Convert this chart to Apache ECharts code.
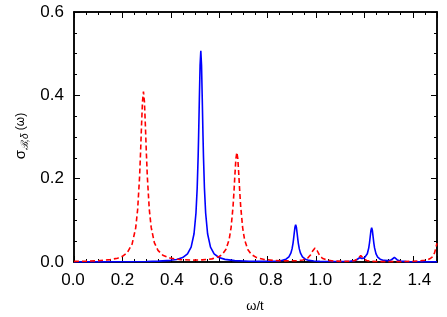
<!DOCTYPE html>
<html>
<head>
<meta charset="utf-8">
<script src="https://cdn.jsdelivr.net/npm/echarts@6/dist/echarts.min.js"></script>
<style>html,body{margin:0;padding:0;background:#fff}#c{width:447px;height:317px}</style>
</head>
<body>
<div id="c"></div>
<script>
// ---- data ----
var blueOmega = [0,0.1,0.2,0.3,0.35,0.4,0.424,0.449,0.469,0.484,0.496,0.504,0.509,0.513,0.515,0.518,0.521,0.524,0.527,0.530,0.533,0.535,0.539,0.544,0.552,0.564,0.579,0.599,0.624,0.664,0.724,0.78,0.82,0.841,0.861,0.876,0.888,0.896,0.901,0.905,0.907,0.910,0.913,0.916,0.919,0.922,0.925,0.927,0.931,0.936,0.944,0.956,0.971,0.991,1.016,1.06,1.1,1.14,1.16,1.17,1.18,1.19,1.2,1.205,1.212,1.218,1.221,1.224,1.227,1.230,1.233,1.236,1.239,1.242,1.248,1.255,1.265,1.28,1.299,1.312,1.318,1.324,1.330,1.336,1.349,1.374,1.4,1.45,1.5];
var blueSigma = [0.0002,0.0003,0.0006,0.0012,0.002,0.004,0.0061,0.0107,0.0195,0.0357,0.0678,0.1177,0.177,0.2535,0.304,0.391,0.472,0.507,0.472,0.391,0.304,0.2535,0.177,0.1177,0.0678,0.0357,0.0195,0.0108,0.0063,0.0033,0.0018,0.0015,0.0019,0.0025,0.0039,0.0068,0.0124,0.0211,0.0315,0.0449,0.0538,0.069,0.0833,0.0894,0.0833,0.069,0.0538,0.0449,0.0315,0.0211,0.0124,0.0068,0.0038,0.0023,0.0014,0.0011,0.0011,0.0018,0.0033,0.006,0.0105,0.0086,0.0099,0.0126,0.0199,0.034,0.0456,0.0606,0.0755,0.0823,0.0755,0.0605,0.0455,0.0338,0.0196,0.0117,0.0067,0.0038,0.0032,0.0054,0.0085,0.0109,0.0082,0.0049,0.0021,0.0008,0.0006,0.0004,0.0003];
var redOmega = [0,0.05,0.1,0.15,0.18,0.2,0.22,0.24,0.255,0.263,0.271,0.275,0.279,0.283,0.287,0.291,0.295,0.299,0.303,0.311,0.319,0.332,0.347,0.367,0.397,0.437,0.487,0.53,0.57,0.6,0.613,0.628,0.641,0.649,0.657,0.661,0.665,0.669,0.673,0.677,0.681,0.685,0.689,0.697,0.705,0.718,0.733,0.753,0.783,0.823,0.873,0.92,0.946,0.966,0.978,0.987,0.996,1.005,1.014,1.026,1.046,1.076,1.11,1.145,1.161,1.173,1.179,1.185,1.191,1.197,1.209,1.225,1.26,1.3,1.35,1.4,1.43,1.45,1.46,1.47,1.48,1.49,1.5];
var redSigma = [0.0014,0.002,0.003,0.0058,0.0092,0.0137,0.0224,0.0428,0.082,0.126,0.2045,0.262,0.327,0.385,0.409,0.385,0.327,0.262,0.205,0.127,0.083,0.0465,0.028,0.0164,0.0094,0.0058,0.0045,0.0051,0.0075,0.0132,0.0185,0.0305,0.0536,0.082,0.132,0.168,0.210,0.2475,0.263,0.2475,0.210,0.168,0.132,0.082,0.053,0.030,0.018,0.011,0.0064,0.0038,0.0027,0.0032,0.0049,0.0095,0.0172,0.0271,0.0336,0.027,0.0171,0.0092,0.0043,0.0022,0.0015,0.0019,0.0037,0.0081,0.0126,0.0156,0.0126,0.0081,0.0036,0.0017,0.001,0.0008,0.0008,0.0018,0.0028,0.0043,0.0054,0.0077,0.0118,0.022,0.045];
var xTickLabels = ['0.0','0.2','0.4','0.6','0.8','1.0','1.2','1.4'];
var yTickLabels = ['0.0','0.2','0.4','0.6'];

function pairs(xs, ys) { return xs.map(function (x, i) { return [x, ys[i]]; }); }

var FONT = '"Liberation Sans", Arial, Helvetica, sans-serif';
var line = { show: true, onZero: false, lineStyle: { color: '#000', width: 1.5 } };

function xAx(pos, interval, len) {
  return { type: 'value', gridIndex: 0, position: pos, min: 0, max: 1.5, interval: interval,
    axisLine: line, axisTick: { show: true, inside: true, length: len, lineStyle: { color: '#000', width: 1 } },
    axisLabel: { show: false }, splitLine: { show: false } };
}
function yAx(pos, interval, len) {
  return { type: 'value', gridIndex: 0, position: pos, min: 0, max: 0.6, interval: interval,
    axisLine: line, axisTick: { show: true, inside: true, length: len, lineStyle: { color: '#000', width: 1 } },
    axisLabel: { show: false }, splitLine: { show: false } };
}

var yLab = yAx('left', 0.2, 6);
yLab.axisLabel = { show: true, margin: 10, fontSize: 17, fontFamily: FONT, color: '#000',
  formatter: function (v) { var i = Math.round(v / 0.2); return yTickLabels[i] || ''; } };

var chart = echarts.init(document.getElementById('c'), null, { renderer: 'canvas' });
chart.setOption({
  animation: false,
  backgroundColor: '#fff',
  grid: [
    { left: 74, right: 10, top: 12, bottom: 55 },
    { left: 73, right: 0, top: 12, bottom: 55 }
  ],
  xAxis: [
    xAx('bottom', 0.2, 6), xAx('bottom', 0.05, 3), xAx('top', 0.2, 6), xAx('top', 0.05, 3),
    { type: 'value', gridIndex: 1, position: 'bottom', min: 0, max: 1.5, interval: 0.2,
      axisLine: { show: false, onZero: false }, axisTick: { show: false }, splitLine: { show: false },
      axisLabel: { show: true, margin: 10, fontSize: 17, fontFamily: FONT, color: '#000',
        formatter: function (v) { var i = Math.round(v / 0.2); return (Math.abs(v - i * 0.2) < 1e-6) ? (xTickLabels[i] || '') : ''; } } }
  ],
  yAxis: [
    yLab, yAx('left', 0.05, 3), yAx('right', 0.2, 6), yAx('right', 0.05, 3),
    { type: 'value', gridIndex: 1, show: false, min: 0, max: 0.6 }
  ],
  series: [
    { type: 'line', xAxisIndex: 0, yAxisIndex: 0, data: pairs(blueOmega, blueSigma), showSymbol: false,
      lineStyle: { color: '#0000ff', width: 1.6, type: 'solid' }, itemStyle: { color: '#0000ff' }, z: 2 },
    { type: 'line', xAxisIndex: 0, yAxisIndex: 0, data: pairs(redOmega, redSigma), showSymbol: false,
      lineStyle: { color: '#ff0000', width: 1.6, type: [5, 3] }, itemStyle: { color: '#ff0000' }, z: 3 }
  ],
  graphic: [
    { type: 'text', x: 21, y: 136, rotation: Math.PI / 2,
      style: { text: '{s|σ}{b|ℬ,δ}{w| (ω)}', align: 'center', verticalAlign: 'middle', fill: '#000',
        rich: {
          s: { fontSize: 15, fontFamily: FONT, lineHeight: 18, verticalAlign: 'middle' },
          b: { fontSize: 10, fontFamily: FONT, lineHeight: 11, verticalAlign: 'bottom', fontStyle: 'italic' },
          w: { fontSize: 12, fontFamily: FONT, lineHeight: 18, verticalAlign: 'middle' }
        } } },
    { type: 'text', x: 255, y: 306, style: { text: 'ω/t', align: 'center', verticalAlign: 'middle',
      fontSize: 13, fontFamily: FONT, fill: '#000' } }
  ]
});
</script>
</body>
</html>
